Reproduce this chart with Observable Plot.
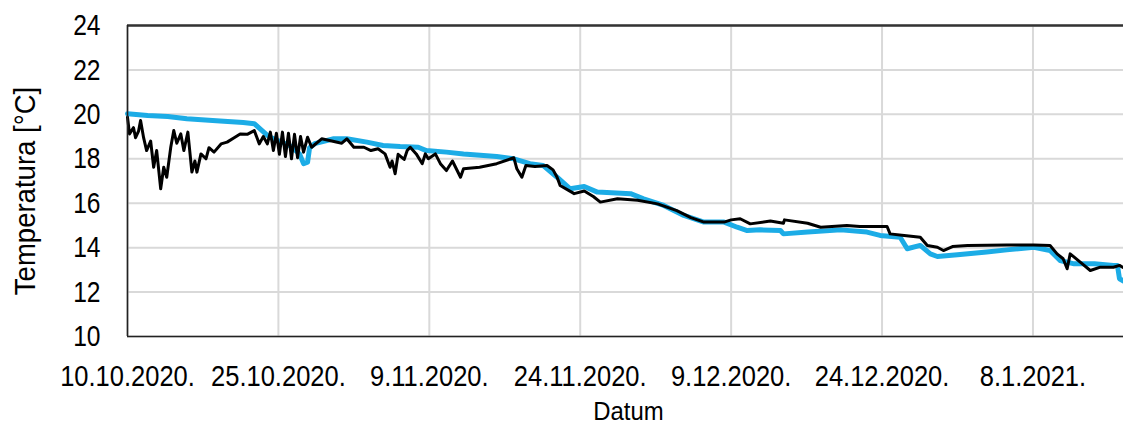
<!DOCTYPE html>
<html><head><meta charset="utf-8">
<script src="https://cdn.jsdelivr.net/npm/d3@7"></script>
<script src="https://cdn.jsdelivr.net/npm/@observablehq/plot@0.6"></script>
<style>
html,body{margin:0;padding:0;background:#fff;}
svg{font-family:"Liberation Sans",Arial,sans-serif;}
</style>
</head><body>
<div id="chart"></div>
<script>
const startDate = "2020-10-10";
const endDate = "2021-01-17";
const tickDates = ["2020-10-10","2020-10-25","2020-11-09","2020-11-24","2020-12-09","2020-12-24","2021-01-08"];
const yTicks = [10,12,14,16,18,20,22,24];

// day offsets from 10.10.2020 and temperatures (°C)
const blueDays = [0,2,4,5.9,9.2,11.5,12.6,13.9,14.2,16.1,17.1,17.5,17.9,18.1,18.6,20.5,21.8,23.8,25.4,27.1,28.9,29.7,31.7,33.4,36.7,38.4,40.0,41.3,42.7,44.0,45.4,46.7,50.0,51.3,53.3,55.3,57.3,59.3,60.6,61.6,62.9,64.9,65.2,67.6,70.9,73.5,74.8,76.8,77.5,78.8,79.8,80.5,82.5,85.4,87.4,90.1,91.7,92.7,94.1,96.1,98.0,98.4,98.6,99];
const blueTemps = [20.03,19.95,19.9,19.8,19.7,19.63,19.58,19.05,18.97,18.6,18.22,17.78,17.85,18.5,18.68,18.9,18.9,18.75,18.6,18.55,18.52,18.37,18.3,18.22,18.1,18.0,17.78,17.7,17.17,16.65,16.75,16.5,16.43,16.2,15.9,15.45,15.15,15.15,14.92,14.77,14.8,14.77,14.62,14.7,14.8,14.7,14.55,14.47,13.95,14.1,13.72,13.6,13.68,13.8,13.9,14.02,13.87,13.42,13.27,13.27,13.2,13.2,12.6,12.5];

const blackDays = [0,0.2,0.6,0.8,1.1,1.3,1.6,1.9,2.3,2.6,2.9,3.3,3.6,3.9,4.3,4.6,4.9,5.3,5.6,6.0,6.4,6.7,6.9,7.3,7.8,8.1,8.6,9.3,9.9,10.6,11.2,11.9,12.6,13.1,13.5,13.9,14.2,14.5,14.8,15.1,15.4,15.7,16.0,16.3,16.6,16.9,17.2,17.5,17.9,18.3,19.3,20.3,21.3,21.8,22.5,23.5,24.2,24.9,25.6,26.1,26.3,26.6,26.9,27.5,27.8,28.1,28.7,29.3,29.6,29.9,30.6,31.1,31.7,32.3,33.1,33.4,35.0,36.7,38.1,38.4,38.7,39.2,39.6,40.5,41.7,42.3,42.7,43.0,44.4,45.4,46.3,47.0,48.7,50.7,52.7,54.6,56.0,57.3,59.3,60.0,60.9,61.9,63.9,65.2,65.3,67.6,68.9,71.5,72.8,75.5,75.8,77.2,78.8,79.5,80.5,81.1,82.0,83.5,87.4,90.1,91.7,92.4,93.0,93.4,93.7,94.7,95.7,96.7,98.0,98.6,99];
const blackTemps = [19.87,19.12,19.4,18.95,19.25,19.72,18.95,18.37,18.8,17.62,18.37,16.65,17.62,17.17,18.52,19.27,18.7,19.12,18.37,19.2,17.4,17.9,17.4,18.22,18.0,18.5,18.3,18.67,18.75,18.95,19.12,19.1,19.27,18.67,19.0,18.67,19.2,18.37,19.15,18.2,19.2,18.1,19.15,18.0,19.1,18.05,19.0,18.3,18.97,18.52,18.9,18.8,18.7,18.9,18.52,18.52,18.37,18.45,18.22,17.62,17.9,17.33,18.2,17.97,18.37,18.52,18.22,17.78,18.22,18.0,18.22,17.78,17.47,17.9,17.17,17.55,17.62,17.78,18.0,18.05,17.55,17.17,17.7,17.65,17.7,17.5,17.17,16.8,16.43,16.55,16.3,16.05,16.2,16.13,15.97,15.67,15.35,15.15,15.15,15.25,15.3,15.07,15.2,15.1,15.25,15.1,14.92,15.0,14.95,14.95,14.62,14.55,14.47,14.1,14.02,13.87,14.05,14.1,14.12,14.12,14.1,13.72,13.5,13.05,13.72,13.35,12.97,13.12,13.12,13.2,13.1];

const t0 = new Date(startDate + "T00:00:00Z").getTime();
const toDate = d => new Date(t0 + d * 86400000);
const blue = blueDays.map((d, i) => ({date: toDate(d), t: blueTemps[i]}));
const black = blackDays.map((d, i) => ({date: toDate(d), t: blackTemps[i]}));
const ticks = tickDates.map(s => new Date(s + "T00:00:00Z"));
const fmt = d => `${d.getUTCDate()}.${d.getUTCMonth() + 1}.${d.getUTCFullYear()}.`;

const chart = Plot.plot({
  width: 1123,
  height: 432,
  marginLeft: 127,
  marginRight: 0,
  marginTop: 25,
  marginBottom: 96,
  style: {fontSize: "30px", color: "#000", background: "#fff"},
  x: {type: "utc", domain: [new Date(startDate + "T00:00:00Z"), new Date(endDate + "T00:00:00Z")]},
  y: {domain: [10, 24]},
  marks: [
    Plot.gridX(ticks, {stroke: "#d9d9d9", strokeOpacity: 1, strokeWidth: 2}),
    Plot.gridY(yTicks, {stroke: "#d9d9d9", strokeOpacity: 1, strokeWidth: 2}),
    Plot.line(blue, {x: "date", y: "t", stroke: "#1cace6", strokeWidth: 5, curve: "linear"}),
    Plot.line(black, {x: "date", y: "t", stroke: "#000", strokeWidth: 3, curve: "linear"}),
    Plot.ruleY([24], {stroke: "#333", strokeWidth: 2.5}),
    Plot.ruleY([10], {stroke: "#222", strokeWidth: 1.6}),
    Plot.ruleX([new Date(startDate + "T00:00:00Z")], {stroke: "#222", strokeWidth: 1.6}),
    Plot.axisX(ticks, {tickSize: 0, tickPadding: 28, tickFormat: fmt, label: null, fill: "#000", fontSize: 30}),
    Plot.axisY(yTicks, {tickSize: 0, tickPadding: 27, label: null, fill: "#000", fontSize: 30}),
    Plot.text(["Datum"], {frameAnchor: "bottom", dx: 3, dy: 83, fontSize: 26, fill: "#000", textAnchor: "middle", className: "t-datum"}),
    Plot.text(["Temperatura [°C]"], {frameAnchor: "left", dx: -102, dy: 10, rotate: -90, textAnchor: "middle", fontSize: 29, fill: "#000", className: "t-ytitle"})
  ]
});
document.getElementById("chart").appendChild(chart);

// condense text horizontally to imitate a narrow typeface
function condense(sel, s) {
  chart.querySelectorAll(sel).forEach(t => {
    const tr = t.getAttribute("transform");
    if (tr) {
      t.setAttribute("transform", tr + ` scale(${s},1)`);
    } else {
      const x = +(t.getAttribute("x") || 0), y = +(t.getAttribute("y") || 0);
      t.removeAttribute("x"); t.removeAttribute("y");
      t.setAttribute("transform", `translate(${x},${y}) scale(${s},1)`);
    }
  });
}
condense('g[aria-label="x-axis tick label"] text', 0.85);
condense('g[aria-label="y-axis tick label"] text', 0.82);
condense('g.t-datum text, .t-datum text', 0.92);
condense('g.t-ytitle text, .t-ytitle text', 0.95);
</script>
</body></html>
